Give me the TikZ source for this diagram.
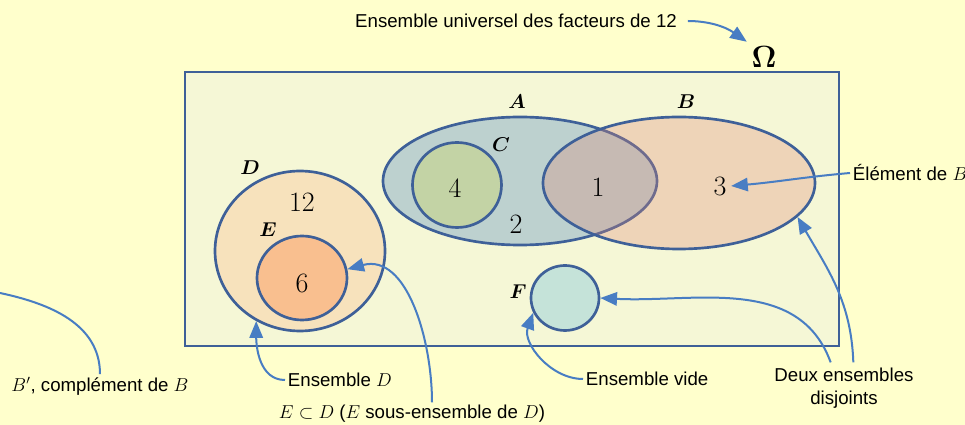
\RequirePackage{fix-cm}
\documentclass[tikz,border=0pt]{standalone}
\usepackage{amsmath}
\usepackage{fontspec}
\setmainfont{Liberation Sans}
\usetikzlibrary{shapes.geometric,arrows.meta}

\definecolor{bgyellow}{RGB}{255,255,204}
\definecolor{omegafill}{RGB}{245,247,214}
\definecolor{setline}{RGB}{62,96,152}
\definecolor{arrowblue}{RGB}{72,125,195}
\definecolor{fillA}{RGB}{189,209,207}
\definecolor{fillB}{RGB}{222,134,117}
\definecolor{fillC}{RGB}{195,211,165}
\definecolor{fillD}{RGB}{247,226,188}
\definecolor{fillE}{RGB}{249,191,143}
\definecolor{fillF}{RGB}{197,227,217}

\tikzset{
  set/.style args={#1/#2}{ellipse, draw=setline, line width=2pt, inner sep=0pt,
    minimum width=#1*0.75pt, minimum height=#2*0.75pt},
  setname/.style={font=\fontsize{15}{17}\selectfont},
  elem/.style={font=\fontsize{21}{24}\selectfont},
  note/.style={font=\fontsize{14}{17}\selectfont, inner sep=2pt},
  arr/.style={draw=arrowblue, line width=1.5pt,
    -{Triangle[length=12.5pt,width=10pt]}}
}

\begin{document}
\begin{tikzpicture}[x=0.75pt,y=0.75pt]
% Background
\fill [bgyellow] (0,0) rectangle (965,425);
\useasboundingbox (0,0) rectangle (965,425);

% Universe
\draw [setline, line width=2pt, fill=omegafill] (185,79) rectangle (839,353);
\node [font=\fontsize{23}{25}\selectfont] (omega) at (764,368) {$\boldsymbol{\Omega}$};

% Sets
\node [set=274/128, fill=fillA] (A) at (520,244) {};
\node [set=89/85, fill=fillC] (C) at (457,240) {};
\node [set=272/132, fill=fillB, fill opacity=0.3, draw opacity=1] (B) at (679,242) {};
\node [set=170/160, fill=fillD] (D) at (300,174) {};
\node [set=90/84, fill=fillE] (E) at (302,147) {};
\node [set=68/65, fill=fillF] (F) at (565,127) {};

% Set names
\node [setname] (nameA) at (517,323) {$\boldsymbol{A}$};
\node [setname] (nameB) at (686,323) {$\boldsymbol{B}$};
\node [setname] (nameC) at (501,280) {$\boldsymbol{C}$};
\node [setname] (nameD) at (250,257) {$\boldsymbol{D}$};
\node [setname] (nameE) at (268,195) {$\boldsymbol{E}$};
\node [setname] (nameF) at (518,133) {$\boldsymbol{F}$};

% Elements
\node [elem] (e12) at (302,223) {$12$};
\node [elem] (e4) at (455,237) {$4$};
\node [elem] (e2) at (516,201) {$2$};
\node [elem] (e1) at (598,238) {$1$};
\node [elem] (e3) at (720,239) {$3$};
\node [elem] (e6) at (302,142) {$6$};

% Notes
\node [note] (univ) at (516,404) {Ensemble universel des facteurs de 12};
\node [note, anchor=west] (elemB) at (850,252) {Élément de $B$};
\node [note] (compB) at (100,39) {$B'$, complément de $B$};
\node [note, anchor=west] (ensD) at (285,45) {Ensemble $D$};
\node [note] (subset) at (412,11) {$E\subset D$ ($E$ sous-ensemble de $D$)};
\node [note, anchor=west] (vide) at (583,46) {Ensemble vide};
\node [note, align=center, inner sep=4pt] (disj) at (844,37) {Deux ensembles\\disjoints};
\coordinate (outside) at (0,132);

% Arrows
\draw [arr, shorten <=6pt] (univ.east) to [out=0,in=145] (omega.north west);
\draw [arr] (elemB.west) to [out=185,in=5] (e3.east);
\draw [draw=arrowblue, line width=1.5pt] (compB.north) to [out=90,in=-12] (outside);
\draw [arr] (ensD.west) to [out=180,in=-90] (D.-122);
\draw [arr] ([xshift=15pt]subset.north) to [out=90,in=15] (E.11);
\draw [arr] (vide.west) to [out=180,in=-110] (F.-155);
\draw [arr] ([xshift=-10pt]disj.north) to [out=110,in=-3] (F.east);
\draw [arr] ([xshift=7pt]disj.north) to [out=92,in=-60] (B.-16);
\end{tikzpicture}
\end{document}
